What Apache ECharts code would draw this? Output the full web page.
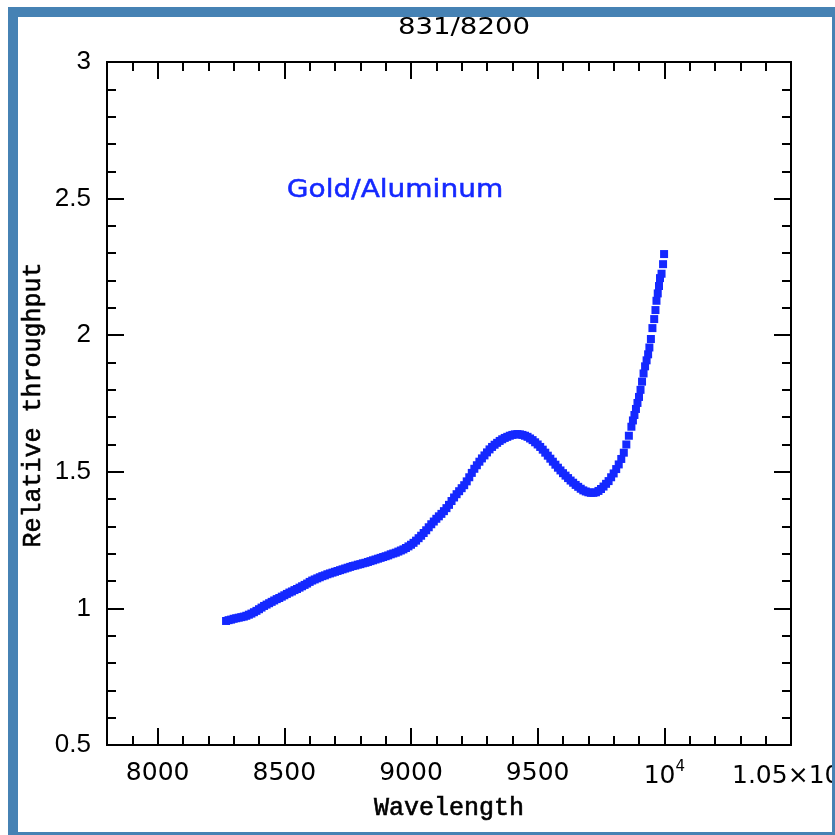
<!DOCTYPE html>
<html><head><meta charset="utf-8">
<script src="https://cdn.jsdelivr.net/npm/echarts@6/dist/echarts.min.js"></script>
<style>html,body{margin:0;padding:0;background:#fff}#c{width:835px;height:835px}</style>
</head><body><div id="c"></div>
<script>
const chartTitle = '831/8200';
const xName = 'Wavelength';
const yName = 'Relative throughput';
const seriesLabel = 'Gold/Aluminum';
const xMajorTicks = [8000, 8500, 9000, 9500, 10000, 10500];
const xMajorLabels = ['8000', '8500', '9000', '9500', '10|4', '1.05×10|4'];

const wavelength = [
  8270, 8280, 8290, 8300, 8310, 8320, 8330, 8340, 8350, 8360,
  8370, 8380, 8390, 8400, 8410, 8420, 8430, 8440, 8450, 8460,
  8470, 8480, 8490, 8500, 8510, 8520, 8530, 8540, 8550, 8560,
  8570, 8580, 8590, 8600, 8610, 8620, 8630, 8640, 8650, 8660,
  8670, 8680, 8690, 8700, 8710, 8720, 8730, 8740, 8750, 8760,
  8770, 8780, 8790, 8800, 8810, 8820, 8830, 8840, 8850, 8860,
  8870, 8880, 8890, 8900, 8910, 8920, 8930, 8940, 8950, 8960,
  8970, 8980, 8990, 9000, 9010, 9020, 9030, 9040, 9050, 9060,
  9070, 9080, 9090, 9100, 9110, 9120, 9130, 9140, 9150, 9160,
  9170, 9180, 9190, 9200, 9210, 9220, 9230, 9240, 9250, 9260,
  9270, 9280, 9290, 9300, 9310, 9320, 9330, 9340, 9350, 9360,
  9370, 9380, 9390, 9400, 9410, 9420, 9430, 9440, 9450, 9460,
  9470, 9480, 9490, 9500, 9510, 9520, 9530, 9540, 9550, 9560,
  9570, 9580, 9590, 9600, 9610, 9620, 9630, 9640, 9650, 9660,
  9670, 9680, 9690, 9700, 9710, 9720, 9730, 9740, 9750, 9760,
  9770, 9780, 9790, 9800, 9810, 9820, 9830, 9840, 9850, 9860,
  9870, 9876, 9882, 9888, 9894, 9900, 9906, 9912, 9918, 9924,
  9930, 9936, 9941, 9947, 9953, 9960, 9965, 9969, 9974, 9979,
  9983, 9989, 9995, 9999
];
const throughput = [
  0.954, 0.957, 0.959, 0.962, 0.964, 0.966, 0.968, 0.970, 0.973, 0.977,
  0.981, 0.986, 0.991, 0.997, 1.003, 1.009, 1.014, 1.019, 1.024, 1.029,
  1.034, 1.038, 1.043, 1.048, 1.053, 1.058, 1.062, 1.067, 1.071, 1.076,
  1.081, 1.086, 1.091, 1.097, 1.102, 1.106, 1.110, 1.114, 1.118, 1.121,
  1.125, 1.128, 1.131, 1.134, 1.137, 1.140, 1.143, 1.146, 1.149, 1.152,
  1.155, 1.157, 1.160, 1.162, 1.165, 1.167, 1.170, 1.173, 1.176, 1.179,
  1.182, 1.185, 1.188, 1.191, 1.194, 1.198, 1.201, 1.204, 1.208, 1.212,
  1.216, 1.221, 1.227, 1.233, 1.240, 1.248, 1.257, 1.266, 1.276, 1.286,
  1.297, 1.308, 1.318, 1.328, 1.337, 1.346, 1.356, 1.367, 1.379, 1.393,
  1.406, 1.418, 1.429, 1.440, 1.451, 1.465, 1.480, 1.496, 1.511, 1.524,
  1.537, 1.549, 1.560, 1.571, 1.582, 1.591, 1.599, 1.606, 1.613, 1.619,
  1.624, 1.628, 1.632, 1.635, 1.637, 1.638, 1.637, 1.635, 1.632, 1.628,
  1.622, 1.616, 1.608, 1.600, 1.591, 1.581, 1.570, 1.559, 1.548, 1.537,
  1.526, 1.515, 1.505, 1.495, 1.486, 1.477, 1.468, 1.460, 1.452, 1.445,
  1.438, 1.432, 1.428, 1.425, 1.423, 1.423, 1.425, 1.430, 1.437, 1.446,
  1.456, 1.466, 1.480, 1.494, 1.510, 1.527, 1.547, 1.570, 1.600, 1.632,
  1.665, 1.688, 1.708, 1.730, 1.752, 1.774, 1.800, 1.830, 1.860, 1.886,
  1.908, 1.930, 1.955, 1.986, 2.026, 2.059, 2.092, 2.126, 2.153, 2.180,
  2.209, 2.225, 2.260, 2.297
];

const chart = echarts.init(document.getElementById('c'), null, {renderer: 'canvas'});
const BLUE = '#1428ff';
const LINE = {color: '#000', width: 2};
const GRID = {left: 107, top: 62, width: 684, height: 683, containLabel: false, outerBoundsMode: 'none'};

function xAxisDef(position, major) {
  const ax = {
    type: 'value', position: position, min: 7800, max: 10500,
    axisLine: {show: true, onZero: false, lineStyle: LINE},
    splitLine: {show: false},
    axisTick: {show: true, inside: true, length: major ? 17 : 9, lineStyle: LINE},
    axisLabel: {show: false}
  };
  if (major) {
    ax.axisTick.customValues = xMajorTicks;
    if (position === 'bottom') {
      ax.axisLabel = {
        show: true, customValues: xMajorTicks, margin: 15, color: '#000',
        hideOverlap: false,
        formatter: function (v) {
          const i = xMajorTicks.indexOf(v);
          const s = i >= 0 ? xMajorLabels[i] : String(v);
          const parts = s.split('|');
          return parts.length > 1 ? '{m|' + parts[0] + '}{s|' + parts[1] + '}' : '{n|' + s + '}';
        },
        rich: {
          n: {fontFamily: 'DejaVu Sans', fontSize: 25, color: '#000', lineHeight: 26},
          m: {fontFamily: 'DejaVu Sans', fontSize: 25, color: '#000', lineHeight: 26, padding: [7, 0, 0, 0]},
          s: {fontFamily: 'DejaVu Sans', fontSize: 15, color: '#000', verticalAlign: 'top', lineHeight: 16}
        }
      };
    }
  } else {
    ax.interval = 100;
  }
  return ax;
}
function yAxisDef(position) {
  return {
    type: 'value', position: position, min: 0.5, max: 3, interval: 0.5,
    axisLine: {show: true, onZero: false, lineStyle: LINE},
    splitLine: {show: false},
    axisTick: {show: true, inside: true, length: 17, lineStyle: LINE},
    minorTick: {show: true, splitNumber: 5, length: 9, lineStyle: LINE},
    axisLabel: position === 'left' ? {
      show: true, margin: 16, color: '#000', fontFamily: 'Liberation Sans', fontSize: 26
    } : {show: false}
  };
}

const points = wavelength.map((w, i) => [w, throughput[i]]);

chart.setOption({
  backgroundColor: '#fff',
  animation: false,
  grid: GRID,
  xAxis: [xAxisDef('bottom', true), xAxisDef('bottom', false), xAxisDef('top', true), xAxisDef('top', false)],
  yAxis: [yAxisDef('left'), yAxisDef('right')],
  series: [{
    type: 'scatter', xAxisIndex: 0, yAxisIndex: 0,
    symbol: 'rect', symbolSize: 8,
    itemStyle: {color: BLUE, opacity: 1},
    data: points
  }],
  graphic: [
    {type: 'text', z: 10, x: 464, y: 28, scaleX: 1.2,
      style: {text: chartTitle, fontFamily: 'DejaVu Sans', fontSize: 23, fill: '#000', textAlign: 'center', textVerticalAlign: 'middle'}},
    {type: 'text', z: 10, x: 449, y: 808,
      style: {text: xName, fontFamily: 'Liberation Mono', fontSize: 25, fill: '#000', textAlign: 'center', textVerticalAlign: 'middle', stroke: '#000', lineWidth: 0.6}},
    {type: 'text', z: 10, x: 33, y: 405, rotation: Math.PI / 2,
      style: {text: yName, fontFamily: 'Liberation Mono', fontSize: 25, fill: '#000', textAlign: 'center', textVerticalAlign: 'middle', stroke: '#000', lineWidth: 0.6}},
    {type: 'text', z: 10, x: 395, y: 190, scaleX: 1.12,
      style: {text: seriesLabel, fontFamily: 'DejaVu Sans', fontSize: 25, fill: BLUE, textAlign: 'center', textVerticalAlign: 'middle', stroke: BLUE, lineWidth: 0.5}},
    {type: 'rect', z: 100, shape: {x: 13, y: 12, width: 824, height: 825},
      style: {fill: 'none', stroke: '#4682B4', lineWidth: 10}}
  ]
});
</script></body></html>
